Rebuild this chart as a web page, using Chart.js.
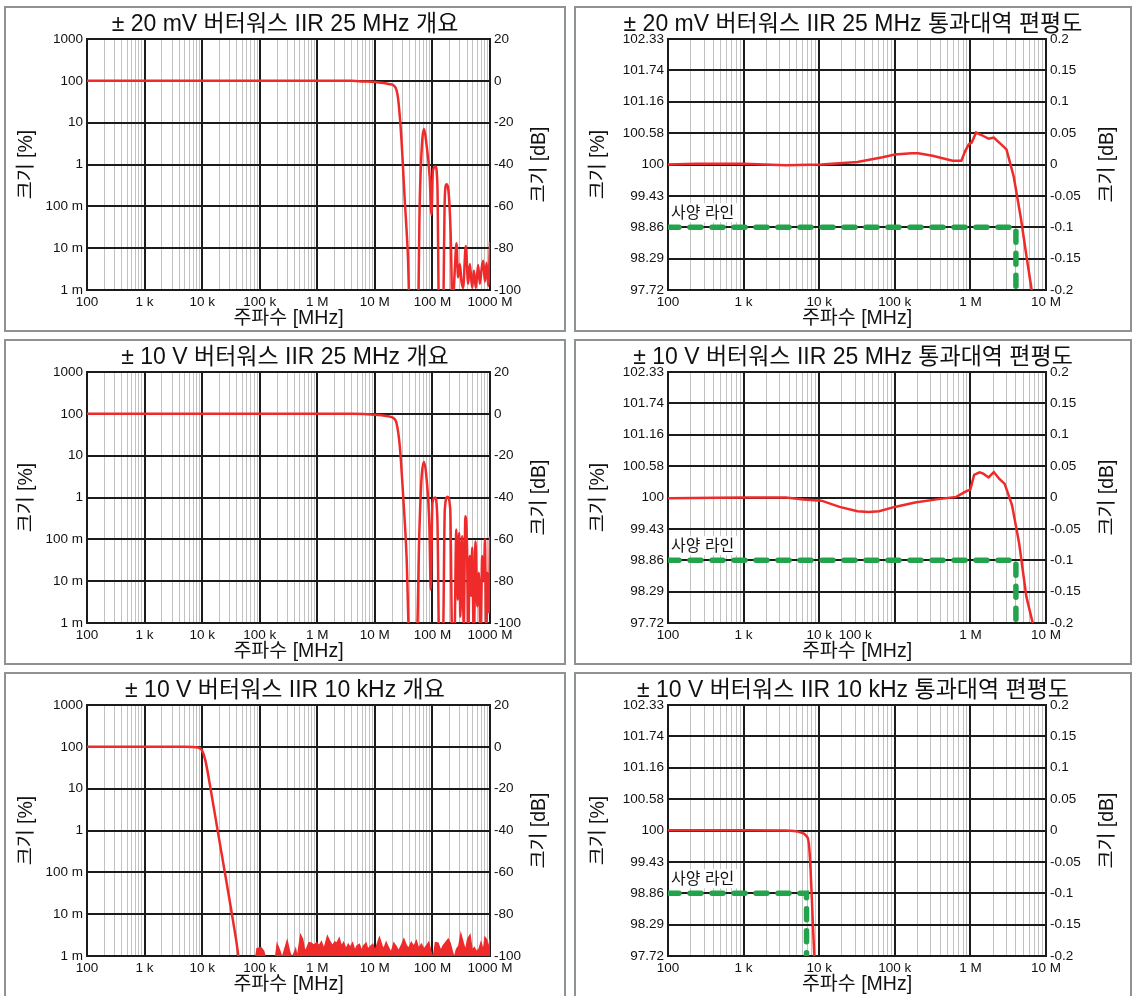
<!DOCTYPE html>
<html>
<head>
<meta charset="utf-8">
<script src="https://cdn.jsdelivr.net/npm/chart.js@4.4.1/dist/chart.umd.min.js"></script>
<style>
    body { margin: 0; background: #fff; width: 1134px; height: 996px; overflow: hidden; position: relative; }
    .panel { position: absolute; border: 2px solid #8e9291; box-sizing: border-box; background: #fff; }
    .panel canvas { display: block; }
</style>
</head>
<body>
<div id="p1" class="panel" style="left:4px; top:6px; width:562px; height:326px;"><canvas></canvas></div>
<div id="p2" class="panel" style="left:574px; top:6px; width:558px; height:326px;"><canvas></canvas></div>
<div id="p3" class="panel" style="left:4px; top:339px; width:562px; height:326px;"><canvas></canvas></div>
<div id="p4" class="panel" style="left:574px; top:339px; width:558px; height:326px;"><canvas></canvas></div>
<div id="p5" class="panel" style="left:4px; top:672px; width:562px; height:326px;"><canvas></canvas></div>
<div id="p6" class="panel" style="left:574px; top:672px; width:558px; height:326px;"><canvas></canvas></div>
<script>
// ---- tick labels ----
const overviewDbTicks = [-100, -80, -60, -40, -20, 0, 20];
const overviewPctLabels = ['1 m', '10 m', '100 m', '1', '10', '100', '1000'];
const overviewDbLabels = ['-100', '-80', '-60', '-40', '-20', '0', '20'];
const flatDbTicks = [-0.2, -0.15, -0.1, -0.05, 0, 0.05, 0.1, 0.15, 0.2];
const flatPctLabels = ['97.72', '98.29', '98.86', '99.43', '100', '100.58', '101.16', '101.74', '102.33'];
const flatDbLabels = ['-0.2', '-0.15', '-0.1', '-0.05', '0', '0.05', '0.1', '0.15', '0.2'];
const overviewFreqTicks = [1e2, 1e3, 1e4, 1e5, 1e6, 1e7, 1e8, 1e9];
const overviewFreqLabels = ['100', '1 k', '10 k', '100 k', '1 M', '10 M', '100 M', '1000 M'];
const flatFreqTicks = [1e2, 1e3, 1e4, 1e5, 1e6, 1e7];
const flatFreqLabels = ['100', '1 k', '10 k', '100 k', '1 M', '10 M'];
// in the 10 V pass-band chart the "100 k" label sits next to "10 k"
const flatFreqTicksShifted = [1e2, 1e3, 1e4, 3e4, 1e6, 1e7];

const titles = [
    '± 20 mV 버터워스 IIR 25 MHz 개요',
    '± 20 mV 버터워스 IIR 25 MHz 통과대역 편평도',
    '± 10 V 버터워스 IIR 25 MHz 개요',
    '± 10 V 버터워스 IIR 25 MHz 통과대역 편평도',
    '± 10 V 버터워스 IIR 10 kHz 개요',
    '± 10 V 버터워스 IIR 10 kHz 통과대역 편평도'
];

// ---- series (frequency in Hz, magnitude in dB) ----
const freq20mVOverview = [100, 4.0e6, 6.3e6, 1.0e7, 1.41e7, 1.8e7, 2.2e7, 2.52e7, 2.88e7, 3.29e7, 3.76e7, 4.03e7,
    5.61e7, 6.01e7, 6.59e7, 7.14e7, 7.85e7, 8.97e7, 9.62e7, 1.02e8, 1.13e8, 1.22e8, 1.30e8,
    1.53e8, 1.64e8, 1.75e8, 1.92e8, 2.08e8, 2.23e8,
    2.45e8, 2.62e8, 2.79e8, 2.99e8, 3.2e8, 3.41e8, 3.8e8, 4.17e8, 4.47e8, 4.9e8, 5.25e8, 5.68e8,
    6.22e8, 6.67e8, 7.14e8, 7.62e8, 8.15e8, 8.71e8, 9.31e8, 9.68e8, 1.0e9];
const mag20mVOverview = [0, 0, -0.3, -0.5, -1.0, -1.6, -2.6, -8, -27, -56, -84.5, -110,
    -110, -59, -30, -23, -30, -46, -64, -43, -41, -50, -110,
    -110, -56, -49.5, -54, -74, -110,
    -90, -77.7, -94, -87.6, -96, -99, -79, -97, -87.6, -99, -90.8, -99,
    -88, -97, -90, -86, -96, -87, -98, -90, -77];

const freq10VOverview = [100, 4.0e6, 1.0e7, 1.58e7, 2.07e7, 2.37e7, 2.71e7, 3.1e7, 3.55e7, 4.0e7,
    5.31e7, 5.92e7, 6.5e7, 7.14e7, 7.94e7, 8.85e7, 9.35e7, 1.0e8, 1.11e8, 1.22e8, 1.31e8,
    1.52e8, 1.64e8, 1.83e8, 2.04e8, 2.21e8,
    2.4e8, 2.6e8, 2.75e8, 2.9e8, 3.06e8, 3.27e8, 3.5e8, 3.74e8, 4.0e8, 4.17e8, 4.46e8, 4.71e8, 4.9e8,
    5.24e8, 5.61e8, 6.0e8, 6.41e8, 6.86e8, 7.33e8, 7.85e8, 8.17e8, 8.63e8, 8.97e8, 9.6e8, 1.0e9];
const mag10VOverview = [0, 0, -0.4, -1.0, -1.9, -4.3, -15.5, -39, -68, -110,
    -110, -57, -30, -23, -31.4, -53.7, -84, -42.6, -40, -50.5, -110,
    -110, -45.8, -39.7, -45.8, -110,
    -110, -55.3, -89, -57, -97, -58.5, -101, -49, -65, -110, -68, -87, -64,
    -110, -61, -92, -76, -110, -68, -80, -60, -110, -76, -95, -58.5];

const freq10kOverview = [100, 5.0e3, 8.5e3, 9.9e3, 1.14e4, 1.42e4, 1.9e4, 2.55e4, 3.41e4, 4.25e4, 4.6e4];
const mag10kOverview = [0, 0, -0.3, -1.6, -6.6, -21, -41.5, -62, -82.6, -100, -110];

const freq10kNoise = [8.5e4, 9.0e4, 1.05e5, 1.17e5, 1.26e5, 1.88e5, 2.01e5, 2.24e5, 2.45e5, 3.0e5, 3.34e5,
    3.67e5, 4.2e5, 4.49e5, 5.14e5, 5.56e5, 6.03e5, 6.53e5, 7.18e5, 7.89e5, 8.77e5, 9.77e5,
    1.07e6, 1.18e6, 1.31e6, 1.40e6, 1.50e6, 1.63e6, 1.84e6, 2.02e6, 2.19e6, 2.40e6, 2.64e6,
    2.86e6, 3.14e6, 3.45e6, 3.73e6, 4.10e6, 4.51e6, 4.89e6, 5.37e6, 5.90e6, 6.38e6, 7.02e6,
    7.50e6, 8.36e6, 9.18e6, 1.01e7, 1.12e7, 1.20e7, 1.32e7, 1.43e7, 1.57e7, 1.72e7, 1.92e7,
    2.14e7, 2.35e7, 2.58e7, 2.87e7, 3.19e7, 3.51e7, 3.85e7, 4.29e7, 4.77e7, 5.25e7, 5.77e7,
    6.42e7, 7.14e7, 7.85e7, 8.62e7, 9.34e7, 1.03e8, 1.13e8, 1.25e8, 1.40e8, 1.53e8, 1.69e8,
    1.88e8, 2.03e8, 2.20e8, 2.39e8, 2.62e8, 2.88e8, 3.12e8, 3.43e8, 3.77e8, 4.08e8, 4.49e8,
    4.92e8, 5.34e8, 5.86e8, 6.44e8, 6.98e8, 7.67e8, 8.20e8, 8.77e8, 9.38e8, 1.0e9];
const mag10kNoise = [-101, -96.5, -96.0, -97.6, -101, -101, -94.4, -97.6, -101, -92.8, -98.4,
    -101, -96.8, -101, -90.1, -92.0, -97.6, -96.5, -93.6, -93.9, -94.9, -93.6,
    -95.2, -93.3, -96.8, -93.9, -90.7, -92.8, -95.2, -93.3, -93.9, -91.6, -95.5,
    -93.6, -96.8, -94.4, -96.0, -93.9, -97.6, -95.2, -94.5, -97.6, -95.2, -93.9,
    -96.8, -95.5, -94.4, -97.6, -93.6, -91.2, -94.9, -96.8, -93.6, -96.0, -98.4,
    -93.9, -95.5, -97.6, -95.2, -92.0, -94.9, -96.5, -93.6, -95.5, -92.8, -96.5,
    -94.4, -96.8, -95.2, -93.6, -97.6, -101, -93.6, -93.9, -97.6, -95.2, -93.6,
    -92.0, -93.9, -97.6, -101, -96.8, -95.2, -89.6, -93.9, -97.6, -92.0, -90.1,
    -97.6, -96.0, -98.0, -96.8, -93.6, -97.6, -91.2, -92.3, -96.8, -92.0];

const freq20mVFlat = [100, 234, 1e3, 3.6e3, 1.07e4, 3.2e4, 6.9e4, 1.0e5, 1.66e5, 2.04e5, 3.16e5, 5.8e5,
    7.6e5, 8.5e5, 9.5e5, 1.04e6, 1.19e6, 1.4e6, 1.74e6, 2.04e6, 2.55e6, 3.0e6, 3.74e6, 4.66e6, 5.5e6, 6.46e6];
const mag20mVFlat = [0, 0.001, 0.001, -0.001, 0, 0.004, 0.0115, 0.016, 0.018, 0.018, 0.014, 0.006,
    0.006, 0.021, 0.032, 0.035, 0.051, 0.047, 0.041, 0.043, 0.032, 0.024, -0.019, -0.086, -0.145, -0.2];

const freq10VFlat = [100, 1e3, 3.6e3, 6.24e3, 1.07e4, 1.86e4, 3.2e4, 4.5e4, 6.2e4, 1e5, 1.85e5, 3.56e5,
    6.5e5, 8.5e5, 1e6, 1.12e6, 1.32e6, 1.48e6, 1.74e6, 2.04e6, 2.4e6, 2.84e6, 3.55e6, 4.4e6, 5.5e6, 6.67e6];
const mag10VFlat = [-0.001, 0, 0, -0.003, -0.005, -0.015, -0.022, -0.023, -0.022, -0.015, -0.008, -0.003,
    0.001, 0.009, 0.013, 0.036, 0.040, 0.038, 0.032, 0.0405, 0.030, 0.0216, -0.012, -0.072, -0.158, -0.2];

const freq10kFlat = [100, 1e3, 3.5e3, 5.66e3, 6.68e3, 7.3e3, 7.7e3, 8.15e3, 8.6e3];
const mag10kFlat = [0.0005, 0.0003, 0, -0.003, -0.008, -0.021, -0.064, -0.133, -0.2];

// spec line ("사양 라인")
const specFreq25M = [100, 4.0e6, 4.0e6];
const specFreq10k = [100, 6.8e3, 6.8e3];
const specMag = [-0.1, -0.1, -0.2];

const FONT = "'Liberation Sans', Arial, 'Noto Sans CJK KR', sans-serif";
const TEXT = '#111';
const MAJOR = '#1b1b1b';
const MINOR = '#c2c2c2';
const RED = '#ee2a2a';
const GREEN = '#22a34c';

function points(xs, ys) {
    return xs.map((x, i) => ({ x: x, y: ys[i] }));
}

function gridFreqs(min, max) {
    const out = [];
    for (let d = min; d < max; d *= 10)
        for (let k = 1; k < 10; k++) out.push(d * k);
    out.push(max);
    return out;
}

function isDecade(v) {
    const l = Math.log10(v);
    return Math.abs(l - Math.round(l)) < 1e-6;
}

const rightTitle = {
    id: 'rightTitle',
    afterDraw(chart, args, opts) {
        const { ctx, chartArea } = chart;
        ctx.save();
        ctx.translate(chart.width - opts.offset, (chartArea.top + chartArea.bottom) / 2);
        ctx.rotate(-Math.PI / 2);
        ctx.font = '19.5px ' + FONT;
        ctx.fillStyle = TEXT;
        ctx.textAlign = 'center';
        ctx.textBaseline = 'middle';
        ctx.fillText('크기 [dB]', 0, 0);
        ctx.restore();
    }
};

const specLabel = {
    id: 'specLabel',
    beforeDatasetsDraw(chart, args, opts) {
        if (!opts || !opts.text) return;
        const { ctx, chartArea, scales } = chart;
        const y = scales.y.getPixelForValue(opts.level);
        ctx.save();
        ctx.font = '16px ' + FONT;
        const w = ctx.measureText(opts.text).width;
        ctx.fillStyle = '#fff';
        ctx.fillRect(chartArea.left + 1, y - 24, w + 6, 19);
        ctx.fillStyle = TEXT;
        ctx.textBaseline = 'middle';
        ctx.fillText(opts.text, chartArea.left + 3, y - 14);
        ctx.restore();
    }
};

function makeChart(id, cfg) {
    const box = document.getElementById(id);
    const canvas = box.querySelector('canvas');
    canvas.width = box.clientWidth;
    canvas.height = box.clientHeight;
    const tickFont = { family: FONT, size: 13.5 };
    const axisFont = { family: FONT, size: 19.5 };

    return new Chart(canvas, {
        type: 'line',
        data: { datasets: cfg.datasets },
        options: {
            responsive: false,
            animation: false,
            layout: { padding: 0 },
            elements: { point: { radius: 0 } },
            plugins: {
                legend: { display: false },
                tooltip: { enabled: false },
                title: {
                    display: true,
                    text: cfg.title,
                    color: TEXT,
                    font: { family: FONT, size: 23, weight: 'normal' },
                    padding: { top: 3, bottom: 0.4 }
                },
                rightTitle: { offset: cfg.rightOffset },
                specLabel: cfg.spec ? { text: '사양 라인', level: -0.1 } : {}
            },
            scales: {
                x: {
                    type: 'logarithmic',
                    min: cfg.xMin,
                    max: cfg.xMax,
                    afterBuildTicks: s => { s.ticks = gridFreqs(cfg.xMin, cfg.xMax).map(v => ({ value: v })); },
                    afterFit: s => { s.height = 40; },
                    ticks: {
                        autoSkip: false,
                        maxRotation: 0,
                        minRotation: 0,
                        padding: 4,
                        color: TEXT,
                        font: tickFont,
                        callback: value => {
                            const i = cfg.xTicks.findIndex(t => Math.abs(t / value - 1) < 1e-6);
                            return i < 0 ? '' : cfg.xLabels[i];
                        }
                    },
                    grid: {
                        drawTicks: false,
                        color: c => (c.tick && isDecade(c.tick.value)) ? MAJOR : MINOR,
                        lineWidth: c => (c.tick && isDecade(c.tick.value)) ? 2 : 1
                    },
                    border: { display: true, color: MAJOR, width: 2 },
                    title: { display: true, text: '주파수 [MHz]', color: TEXT, font: axisFont, padding: 0 }
                },
                y: {
                    type: 'linear',
                    position: 'left',
                    min: cfg.yTicks[0],
                    max: cfg.yTicks[cfg.yTicks.length - 1],
                    afterBuildTicks: s => { s.ticks = cfg.yTicks.map(v => ({ value: v })); },
                    afterFit: s => { s.width = cfg.leftWidth; },
                    ticks: { padding: 4, color: TEXT, font: tickFont, callback: (v, i) => cfg.yLeftLabels[i] },
                    grid: { drawTicks: false, color: MAJOR, lineWidth: 2 },
                    border: { display: true, color: MAJOR, width: 2 },
                    title: { display: true, text: '크기 [%]', color: TEXT, font: axisFont, padding: { top: cfg.leftTitlePad, bottom: 0 } }
                },
                y2: {
                    type: 'linear',
                    position: 'right',
                    min: cfg.yTicks[0],
                    max: cfg.yTicks[cfg.yTicks.length - 1],
                    afterBuildTicks: s => { s.ticks = cfg.yTicks.map(v => ({ value: v })); },
                    afterFit: s => { s.width = cfg.rightWidth; },
                    ticks: { padding: 4, color: TEXT, font: tickFont, callback: (v, i) => cfg.yRightLabels[i] },
                    grid: { display: false, drawTicks: false },
                    border: { display: true, color: MAJOR, width: 2 }
                }
            }
        },
        plugins: [specLabel, rightTitle]
    });
}

function redLine(xs, ys, extra) {
    return Object.assign({
        data: points(xs, ys),
        yAxisID: 'y',
        borderColor: RED,
        backgroundColor: RED,
        borderWidth: 2.5,
        cubicInterpolationMode: 'monotone',
        clip: 0
    }, extra || {});
}

function specLine(xs) {
    return {
        data: points(xs, specMag),
        yAxisID: 'y',
        borderColor: GREEN,
        borderWidth: 5.5,
        borderDash: [11, 11],
        borderCapStyle: 'round',
        tension: 0,
        clip: 0
    };
}

const overviewBase = {
    xMin: 1e2, xMax: 1e9,
    xTicks: overviewFreqTicks, xLabels: overviewFreqLabels,
    yTicks: overviewDbTicks, yLeftLabels: overviewPctLabels, yRightLabels: overviewDbLabels,
    leftWidth: 81, rightWidth: 74, leftTitlePad: 9, rightOffset: 24
};
const flatBase = {
    xMin: 1e2, xMax: 1e7,
    xTicks: flatFreqTicks, xLabels: flatFreqLabels,
    yTicks: flatDbTicks, yLeftLabels: flatPctLabels, yRightLabels: flatDbLabels,
    leftWidth: 92, rightWidth: 84, leftTitlePad: 11, rightOffset: 22, spec: true
};

makeChart('p1', Object.assign({}, overviewBase, {
    title: titles[0],
    datasets: [redLine(freq20mVOverview, mag20mVOverview)]
}));
makeChart('p2', Object.assign({}, flatBase, {
    title: titles[1],
    datasets: [specLine(specFreq25M), redLine(freq20mVFlat, mag20mVFlat, { cubicInterpolationMode: 'default', tension: 0 })]
}));
makeChart('p3', Object.assign({}, overviewBase, {
    title: titles[2],
    datasets: [redLine(freq10VOverview, mag10VOverview)]
}));
makeChart('p4', Object.assign({}, flatBase, {
    title: titles[3],
    xTicks: flatFreqTicksShifted,
    datasets: [specLine(specFreq25M), redLine(freq10VFlat, mag10VFlat, { cubicInterpolationMode: 'default', tension: 0 })]
}));
makeChart('p5', Object.assign({}, overviewBase, {
    title: titles[4],
    datasets: [
        redLine(freq10kOverview, mag10kOverview),
        redLine(freq10kNoise, mag10kNoise, { cubicInterpolationMode: 'default', tension: 0, borderWidth: 1.5, fill: 'start' })
    ]
}));
makeChart('p6', Object.assign({}, flatBase, {
    title: titles[5],
    datasets: [specLine(specFreq10k), redLine(freq10kFlat, mag10kFlat)]
}));
</script>
</body>
</html>
